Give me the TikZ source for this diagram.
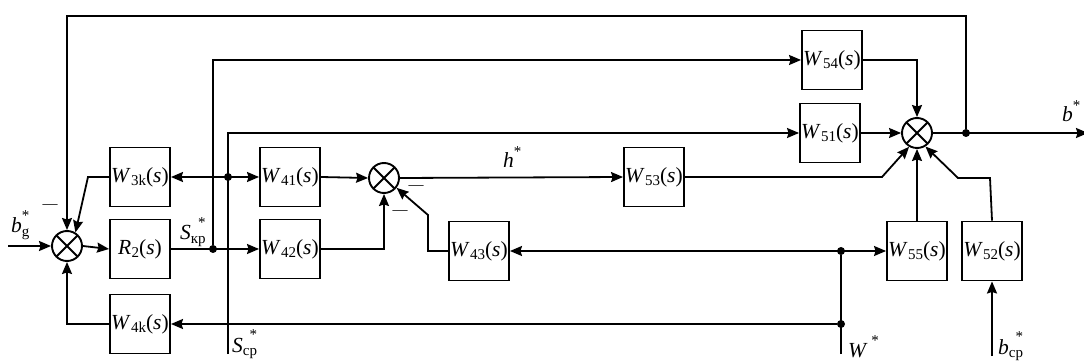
\documentclass[tikz,border=0pt]{standalone}
\usepackage{fontspec}
\setmainfont{Liberation Serif}
\usetikzlibrary{arrows.meta}

% transfer-function label: W_{sub}(s)
\newcommand{\tfn}[2]{\textit{#1}\kern0.3pt\raisebox{-0.35ex}{\fontsize{15}{15}\selectfont #2}(\textit{s})}
% signal with subscript and superscript star
\newcommand{\sig}[2]{\textit{#1}\raisebox{-0.4ex}{\fontsize{15}{15}\selectfont #2}\llap{\raisebox{1.25ex}{\fontsize{15}{15}\selectfont *}}}
% signal with star only
\newcommand{\sigs}[1]{\textit{#1}\raisebox{1.2ex}{\fontsize{15}{15}\selectfont *}}

\tikzset{
  wire/.style={line width=1.8pt},
  arr/.style={wire,-{Stealth[length=12pt,width=10pt,inset=1.5pt]}},
  darr/.style={wire,{Stealth[length=12pt,width=10pt,inset=1.5pt]}-{Stealth[length=12pt,width=10pt,inset=1.5pt]}},
  blk/.style={draw,line width=1.9pt,minimum width=60pt,minimum height=59pt,inner sep=0pt,
    font=\fontsize{21.5}{23}\selectfont},
  sum/.style={draw,circle,line width=1.9pt,minimum size=30pt,inner sep=0pt,
    path picture={\draw[line width=1.9pt]
      (path picture bounding box.north west) -- (path picture bounding box.south east)
      (path picture bounding box.north east) -- (path picture bounding box.south west);}},
  dot/.style={circle,fill,inner sep=0pt,minimum size=8pt},
  lbl/.style={anchor=base west,inner sep=0pt,font=\fontsize{21.5}{23}\selectfont},
  minus/.style={inner sep=0pt,font=\fontsize{15}{15}\selectfont}
}

\begin{document}
\begin{tikzpicture}[x=1pt,y=-1pt]
\useasboundingbox (0,0) rectangle (1084,363);

% summing junctions
\node[sum] (s1) at (67,246) {};
\node[sum] (s2) at (384,178) {};
\node[sum] (s3) at (917,133) {};

% blocks
\node[blk] (r2)  at (140,249) {\tfn{R}{2}};
\node[blk] (w3k) at (140,177) {\tfn{W}{3k}};
\node[blk] (w4k) at (140,324) {\tfn{W}{4k}};
\node[blk] (w41) at (290,177) {\tfn{W}{41}};
\node[blk] (w42) at (290,249) {\tfn{W}{42}};
\node[blk] (w43) at (479,251) {\tfn{W}{43}};
\node[blk] (w53) at (654,177) {\tfn{W}{53}};
\node[blk] (w54) at (832,60)  {\tfn{W}{54}};
\node[blk] (w51) at (830,133) {\tfn{W}{51}};
\node[blk] (w55) at (917,251) {\tfn{W}{55}};
\node[blk] (w52) at (992,251) {\tfn{W}{52}};

% branch points and free ends
\node[dot] (j1) at (213,249) {};
\node[dot] (j2) at (228,177) {};
\node[dot] (j3) at (966,133) {};
\node[dot] (j4) at (841,251) {};
\node[dot] (j5) at (841,324) {};
\coordinate (bin)  at (8,246);
\coordinate (scp)  at (228,354);
\coordinate (wst)  at (841,354);
\coordinate (bcp)  at (992,356);
\coordinate (top)  at (966,16);
\coordinate (bout) at (1088,133);
\coordinate (k3)   at (88,177);
\coordinate (k43a) at (428,251);
\coordinate (k43b) at (428,215);
\coordinate (k53)  at (882,177);
\coordinate (k52b) at (990,178);
\coordinate (k52c) at (958,178);

% left loop
\draw[arr] (bin) -- (s1.west);
\draw[arr] (s1.east) -- (r2.west);
\draw[arr] (r2.east) -- (w42.west);
\draw[arr] (j1) |- (w54.west);
\draw[arr] (scp) |- (w51.west);
\draw[darr] (w3k.east) -- (w41.west);
\draw[arr] (w3k.west) -- (k3) -- (s1.58);
\draw[arr] (w4k.west) -| (s1.south);
\draw[arr] (j3) -- (top) -| (s1.north);

% middle junction
\draw[arr] (w41.east) -- (s2.west);
\draw[arr] (w42.east) -| (s2.south);
\draw[arr] (w43.west) -- (k43a) -- (k43b) -- (s2.-38);
\draw[arr] (s2.east) -- (w53.west);

% output junction
\draw[arr] (w53.east) -- (k53) -- (s3.-120);
\draw[arr] (w51.east) -- (s3.west);
\draw[arr] (w54.east) -| (s3.north);
\draw[arr] (w55.north) -- (s3.south);
\draw[arr] (w52.north) -- (k52b) -- (k52c) -- (s3.-58);
\draw[arr] (s3.east) -- (bout);

% disturbance inputs
\draw[wire] (wst) -- (j4);
\draw[darr] (w43.east) -- (w55.west);
\draw[arr] (j5) -- (w4k.east);
\draw[arr] (bcp) -- (w52.south);

% signal labels
\node[lbl] (lbg)  at (11,233)   {\sig{b}{g}};
\node[lbl] (lskp) at (180,240)  {\sig{S}{кр}};
\node[lbl] (lscp) at (232,352)  {\sig{S}{ср}};
\node[lbl] (lh)   at (503,168)  {\sigs{h}};
\node[lbl] (lb)   at (1062,122) {\sigs{b}};
\node[lbl] (lw)   at (848,357)  {\textit{W}\,\raisebox{1.2ex}{\fontsize{15}{15}\selectfont *}};
\node[lbl] (lbcp) at (998,354)  {\sig{b}{ср}};

% sign marks
\node[minus] (m1) at (50,207)  {—};
\node[minus] (m2) at (400,213) {—};
\node[minus] (m3) at (416,188) {—};
\end{tikzpicture}
\end{document}
